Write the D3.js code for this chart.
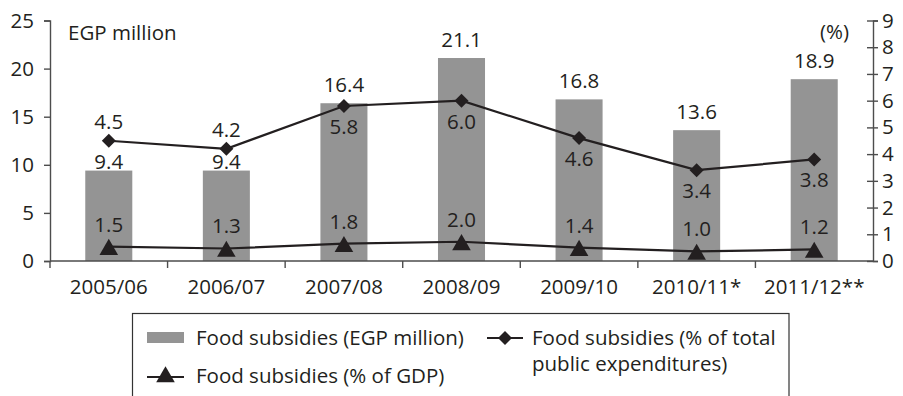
<!DOCTYPE html>
<html lang="en"><head>
<meta charset="utf-8">
<title>Food subsidies</title>
<script src="https://cdnjs.cloudflare.com/ajax/libs/d3/7.8.5/d3.min.js"></script>
<style>
  body { margin: 0; background: #fff; }
  svg text { font-family: "Open Sans", "Lato", sans-serif; fill: #231f20; }
</style>
</head>
<body>
<svg id="chart" width="903" height="396"></svg>
<script>
// values
var years = ["2005/06", "2006/07", "2007/08", "2008/09", "2009/10", "2010/11*", "2011/12**"];
var egpMillion = [9.4, 9.4, 16.4, 21.1, 16.8, 13.6, 18.9];
var pctExpend = [4.5, 4.2, 5.8, 6.0, 4.6, 3.4, 3.8];
var pctGdp = [1.5, 1.3, 1.8, 2.0, 1.4, 1.0, 1.2];
var leftTicks = [0, 5, 10, 15, 20, 25];
var rightTicks = [0, 1, 2, 3, 4, 5, 6, 7, 8, 9];
// diamond labels above the point for these, below otherwise
var expendAbove = [true, true, false, false, false, false, false];
// bar labels squeezed down onto the bar where the diamond label sits above
var barLabelLow = [true, true, false, false, false, false, false];

var svg = d3.select("#chart");
var fs = 20.5;
var ink = "#231f20";

var x = d3.scaleBand().domain(years).range([50, 873]).paddingInner(0.6).paddingOuter(0.3);
var yL = d3.scaleLinear().domain([0, 25]).range([261, 20.5]);
var yR = d3.scaleLinear().domain([0, 9]).range([261, 20.5]);
var cx = function(d) { return x(d) + x.bandwidth() / 2; };

// bars
svg.append("g").selectAll("rect")
  .data(years)
  .enter().append("rect")
  .attr("x", function(d) { return x(d); })
  .attr("width", x.bandwidth())
  .attr("y", function(d, i) { return yL(egpMillion[i]); })
  .attr("height", function(d, i) { return yL(0) - yL(egpMillion[i]); })
  .attr("fill", "#949494");

// left axis
var gl = svg.append("g").attr("transform", "translate(50,0)")
  .call(d3.axisLeft(yL).tickValues(leftTicks).tickSize(6).tickPadding(10));
gl.selectAll("text").style("font-size", fs + "px").attr("fill", ink);

// right axis, ticks cross the line
var gr = svg.append("g").attr("transform", "translate(873,0)")
  .call(d3.axisRight(yR).tickValues(rightTicks).tickSize(5).tickPadding(4));
gr.selectAll(".tick line").attr("x1", -6);
gr.selectAll("text").style("font-size", fs + "px").attr("fill", ink);

// bottom axis: labels at centres, ticks at band edges
var gb = svg.append("g").attr("transform", "translate(0,261)")
  .call(d3.axisBottom(x).tickSize(0).tickPadding(18));
gb.selectAll("text").style("font-size", fs + "px").attr("fill", ink);
gb.selectAll(".domain").attr("d", "M50,0H873");
var edges = d3.range(years.length).map(function(i) { return 50 + i * x.step(); });
gb.selectAll(".edge").data(edges).enter().append("line")
  .attr("class", "edge")
  .attr("x1", function(d) { return d; }).attr("x2", function(d) { return d; })
  .attr("y1", 0).attr("y2", 7);

svg.selectAll(".domain, .tick line, .edge").attr("stroke", "#4d4d4d").attr("stroke-width", 1.4);

// lines
var lineExp = d3.line().x(function(d, i) { return cx(years[i]); }).y(function(d) { return yR(d); });
var lineGdp = d3.line().x(function(d, i) { return cx(years[i]); }).y(function(d) { return yL(d); });

svg.append("path").datum(pctExpend).attr("d", lineExp)
  .attr("fill", "none").attr("stroke", ink).attr("stroke-width", 2.2);
svg.append("path").datum(pctGdp).attr("d", lineGdp)
  .attr("fill", "none").attr("stroke", ink).attr("stroke-width", 2.2);

var diamond = d3.symbol().type(d3.symbolSquare).size(98);
var triangle = d3.symbol().type(d3.symbolTriangle).size(150);

svg.append("g").selectAll("path")
  .data(pctExpend).enter().append("path")
  .attr("d", diamond)
  .attr("transform", function(d, i) { return "translate(" + cx(years[i]) + "," + yR(d) + ") rotate(45)"; })
  .attr("fill", ink);

svg.append("g").selectAll("path")
  .data(pctGdp).enter().append("path")
  .attr("d", triangle)
  .attr("transform", function(d, i) { return "translate(" + cx(years[i]) + "," + (yL(d) + 3) + ")"; })
  .attr("fill", ink);

// data labels
var labels = svg.append("g").attr("text-anchor", "middle").style("font-size", fs + "px");
labels.selectAll(".lb").data(egpMillion).enter().append("text")
  .attr("x", function(d, i) { return cx(years[i]); })
  .attr("y", function(d, i) { return yL(d) - (barLabelLow[i] ? 2 : 11); })
  .text(function(d) { return d.toFixed(1); });
labels.selectAll(".le").data(pctExpend).enter().append("text")
  .attr("x", function(d, i) { return cx(years[i]); })
  .attr("y", function(d, i) { return expendAbove[i] ? yR(d) - 12 : yR(d) + 28; })
  .text(function(d) { return d.toFixed(1); });
labels.selectAll(".lg").data(pctGdp).enter().append("text")
  .attr("x", function(d, i) { return cx(years[i]); })
  .attr("y", function(d) { return yL(d) - 15; })
  .text(function(d) { return d.toFixed(1); });

// axis titles
svg.append("text").attr("x", 68).attr("y", 40).style("font-size", fs + "px").text("EGP million");
svg.append("text").attr("x", 849).attr("y", 39).attr("text-anchor", "end").style("font-size", fs + "px").text("(%)");

// legend
var lg = svg.append("g").style("font-size", fs + "px");
lg.append("rect").attr("x", 132.5).attr("y", 313.5).attr("width", 656.5).attr("height", 100)
  .attr("fill", "none").attr("stroke", "#333").attr("stroke-width", 1.2);
lg.append("rect").attr("x", 147).attr("y", 332).attr("width", 37).attr("height", 11).attr("fill", "#949494");
lg.append("text").attr("x", 196).attr("y", 345).text("Food subsidies (EGP million)");

lg.append("line").attr("x1", 487).attr("x2", 523).attr("y1", 338).attr("y2", 338)
  .attr("stroke", ink).attr("stroke-width", 2.2);
lg.append("path").attr("d", diamond)
  .attr("transform", "translate(505,338) rotate(45)").attr("fill", ink);
lg.append("text").attr("x", 532).attr("y", 345).text("Food subsidies (% of total");
lg.append("text").attr("x", 532).attr("y", 371).text("public expenditures)");

lg.append("line").attr("x1", 147).attr("x2", 184).attr("y1", 377).attr("y2", 377)
  .attr("stroke", ink).attr("stroke-width", 2.2);
lg.append("path").attr("d", triangle).attr("transform", "translate(165.5,377)").attr("fill", ink);
lg.append("text").attr("x", 196).attr("y", 383).text("Food subsidies (% of GDP)");
</script>
</body></html>
